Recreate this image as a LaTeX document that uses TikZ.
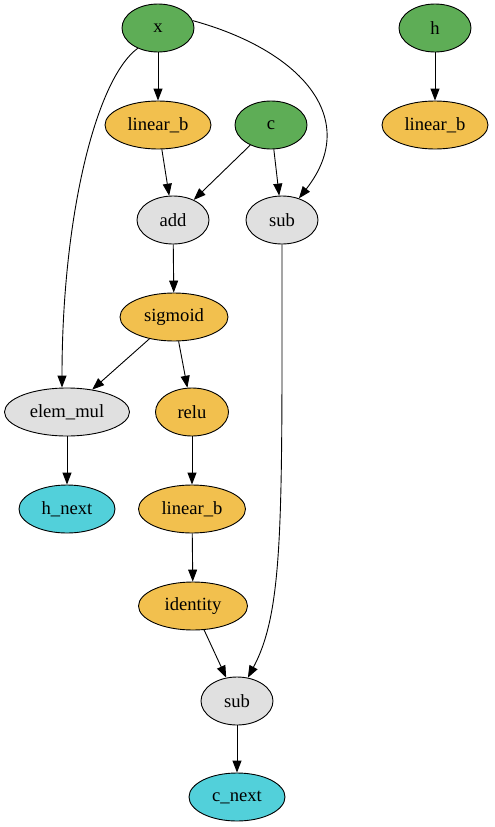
\documentclass[tikz,border=0pt]{standalone}
\usepackage{fontspec}
\setmainfont{Liberation Serif}
\usetikzlibrary{arrows.meta,shapes.geometric}
\definecolor{gin}{RGB}{94,173,86}
\definecolor{gop}{RGB}{242,192,78}
\definecolor{gout}{RGB}{82,208,218}
\definecolor{gmath}{RGB}{224,224,224}
\tikzset{
  nd/.style={ellipse,draw=black,line width=0.9pt,inner sep=0pt,minimum height=48pt,font=\fontsize{18.6}{20}\selectfont},
  inn/.style={nd,fill=gin,minimum width=72pt},
  opn/.style={nd,fill=gop},
  outn/.style={nd,fill=gout,minimum width=96pt},
  mathn/.style={nd,fill=gmath},
  edge/.style={line width=0.9pt,-{Triangle[length=12pt,width=9pt]}}
}
\begin{document}
\begin{tikzpicture}[x=1pt,y=-1pt]
\useasboundingbox (0,0) rectangle (495,827);
\node[inn] (x) at (158,28) {x};
\node[inn] (h) at (435,28) {h};
\node[opn,minimum width=106pt] (lb1) at (158,125) {linear\_b};
\node[inn] (c) at (271,125) {c};
\node[opn,minimum width=106pt] (lb2) at (435,125) {linear\_b};
\node[mathn,minimum width=72pt] (add) at (173,220) {add};
\node[mathn,minimum width=72pt] (sub1) at (282,220) {sub};
\node[opn,minimum width=108pt] (sig) at (174,317) {sigmoid};
\node[mathn,minimum width=125pt] (em) at (67,412) {elem\_mul};
\node[opn,minimum width=73pt] (relu) at (192,412) {relu};
\node[outn] (hn) at (67,509) {h\_next};
\node[opn,minimum width=107pt] (lb3) at (192,509) {linear\_b};
\node[opn,minimum width=109pt] (id) at (193,606) {identity};
\node[mathn,minimum width=72pt] (sub2) at (237,701) {sub};
\node[outn] (cn) at (237,797) {c\_next};

\draw[edge] (x) -- (lb1);
\draw[edge] (x.225) .. controls (95,80) and (62,220) .. (em.north -| 62,0);
\draw[edge] (x.12) .. controls (300,50) and (362,118) .. (sub1.52);
\draw[edge] (h) -- (lb2);
\draw[edge] (lb1) -- (add);
\draw[edge] (c) -- (add);
\draw[edge] (c) -- (sub1);
\draw[edge] (add) -- (sig);
\draw[edge] (sig) -- (em);
\draw[edge] (sig) -- (relu);
\draw[edge] (em) -- (hn);
\draw[edge] (relu) -- (lb3);
\draw[edge] (lb3) -- (id);
\draw[edge] (id) -- (sub2);
\draw[edge] (sub1.south) .. controls (282,520) and (284,610) .. (sub2.65);
\draw[edge] (sub2) -- (cn);
\end{tikzpicture}
\end{document}
